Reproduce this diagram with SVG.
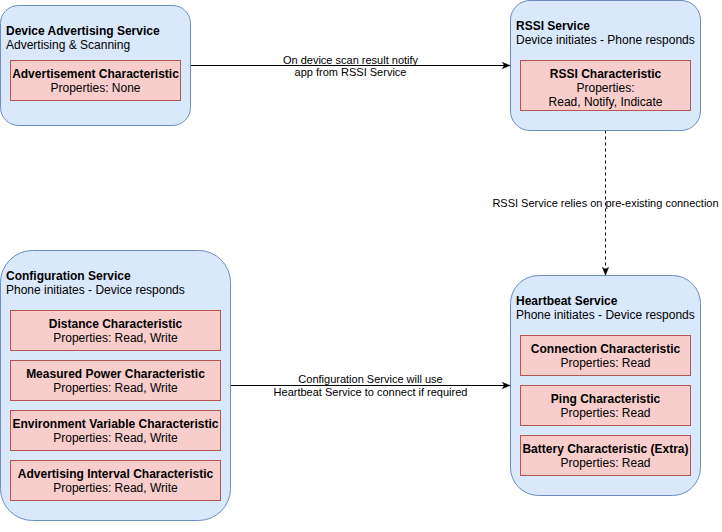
<svg xmlns="http://www.w3.org/2000/svg" width="722" height="532" viewBox="0 0 722 532">
<style>
.svc{fill:#dae8fc;stroke:#6c8ebf;stroke-width:1}
.chr{fill:#f8cecc;stroke:#b85450;stroke-width:1}
text{font-family:"Liberation Sans",Arial,Helvetica,sans-serif;font-size:12px;fill:#000}
.b{font-weight:bold}
.c{text-anchor:middle}
.lbl{font-size:11px;text-anchor:middle}
.edge{fill:none;stroke:#000;stroke-width:1}
</style>
<defs>
<marker id="arr" viewBox="0 0 10 10" refX="9" refY="5" markerWidth="8" markerHeight="8" markerUnits="userSpaceOnUse" orient="auto">
<path d="M0,1 L10,5 L0,9 L2.5,5 Z" fill="#000" stroke="#000" stroke-width="0.5"/>
</marker>
</defs>
<rect width="722" height="532" fill="#fff"/>
<g id="connectors">
<path class="edge" d="M190.5,65.5 L509.5,65.5" marker-end="url(#arr)"/>
<text class="lbl" x="350.5" y="63.5">On device scan result notify</text>
<text class="lbl" x="350.5" y="76">app from RSSI Service</text>
<path class="edge" d="M605.5,130.5 L605.5,274.5" stroke-dasharray="3,3" marker-end="url(#arr)"/>
<text class="lbl" x="605.5" y="207">RSSI Service relies on pre-existing connection</text>
<path class="edge" d="M230.5,385.5 L509.5,385.5" marker-end="url(#arr)"/>
<text class="lbl" x="370.5" y="383">Configuration Service will use</text>
<text class="lbl" x="370.5" y="396">Heartbeat Service to connect if required</text>
</g>
<g id="device-advertising-service">
<rect class="svc" x="0.5" y="5.5" width="190" height="120" rx="18" ry="18"/>
<text class="b" x="6" y="35">Device Advertising Service</text>
<text x="6" y="49">Advertising &amp; Scanning</text>
<g id="advertisement-characteristic">
<rect class="chr" x="10.5" y="60.5" width="170" height="40"/>
<text class="b c" x="95.5" y="77.5">Advertisement Characteristic</text>
<text class="c" x="95.5" y="91.5">Properties: None</text>
</g>
</g>
<g id="rssi-service">
<rect class="svc" x="510.5" y="0.5" width="190" height="130" rx="19.5" ry="19.5"/>
<text class="b" x="516" y="30">RSSI Service</text>
<text x="516" y="44">Device initiates - Phone responds</text>
<g id="rssi-characteristic">
<rect class="chr" x="520.5" y="60.5" width="170" height="50"/>
<text class="b c" x="605.5" y="77.5">RSSI Characteristic</text>
<text class="c" x="605.5" y="91.5">Properties:</text>
<text class="c" x="605.5" y="105.5">Read, Notify, Indicate</text>
</g>
</g>
<g id="configuration-service">
<rect class="svc" x="0.5" y="250.5" width="230" height="270" rx="32" ry="32"/>
<text class="b" x="6" y="280">Configuration Service</text>
<text x="6" y="294">Phone initiates - Device responds</text>
<g id="distance-characteristic">
<rect class="chr" x="10.5" y="310.5" width="210" height="40"/>
<text class="b c" x="115.5" y="327.5">Distance Characteristic</text>
<text class="c" x="115.5" y="341.5">Properties: Read, Write</text>
</g>
<g id="measured-power-characteristic">
<rect class="chr" x="10.5" y="360.5" width="210" height="40"/>
<text class="b c" x="115.5" y="377.5">Measured Power Characteristic</text>
<text class="c" x="115.5" y="391.5">Properties: Read, Write</text>
</g>
<g id="environment-variable-characteristic">
<rect class="chr" x="10.5" y="410.5" width="210" height="40"/>
<text class="b c" x="115.5" y="427.5">Environment Variable Characteristic</text>
<text class="c" x="115.5" y="441.5">Properties: Read, Write</text>
</g>
<g id="advertising-interval-characteristic">
<rect class="chr" x="10.5" y="460.5" width="210" height="40"/>
<text class="b c" x="115.5" y="477.5">Advertising Interval Characteristic</text>
<text class="c" x="115.5" y="491.5">Properties: Read, Write</text>
</g>
</g>
<g id="heartbeat-service">
<rect class="svc" x="510.5" y="275.5" width="190" height="220" rx="28" ry="28"/>
<text class="b" x="516" y="305">Heartbeat Service</text>
<text x="516" y="319">Phone initiates - Device responds</text>
<g id="connection-characteristic">
<rect class="chr" x="520.5" y="335.5" width="170" height="40"/>
<text class="b c" x="605.5" y="352.5">Connection Characteristic</text>
<text class="c" x="605.5" y="366.5">Properties: Read</text>
</g>
<g id="ping-characteristic">
<rect class="chr" x="520.5" y="385.5" width="170" height="40"/>
<text class="b c" x="605.5" y="402.5">Ping Characteristic</text>
<text class="c" x="605.5" y="416.5">Properties: Read</text>
</g>
<g id="battery-characteristic">
<rect class="chr" x="520.5" y="435.5" width="170" height="40"/>
<text class="b c" x="605.5" y="452.5">Battery Characteristic (Extra)</text>
<text class="c" x="605.5" y="466.5">Properties: Read</text>
</g>
</g>
</svg>
